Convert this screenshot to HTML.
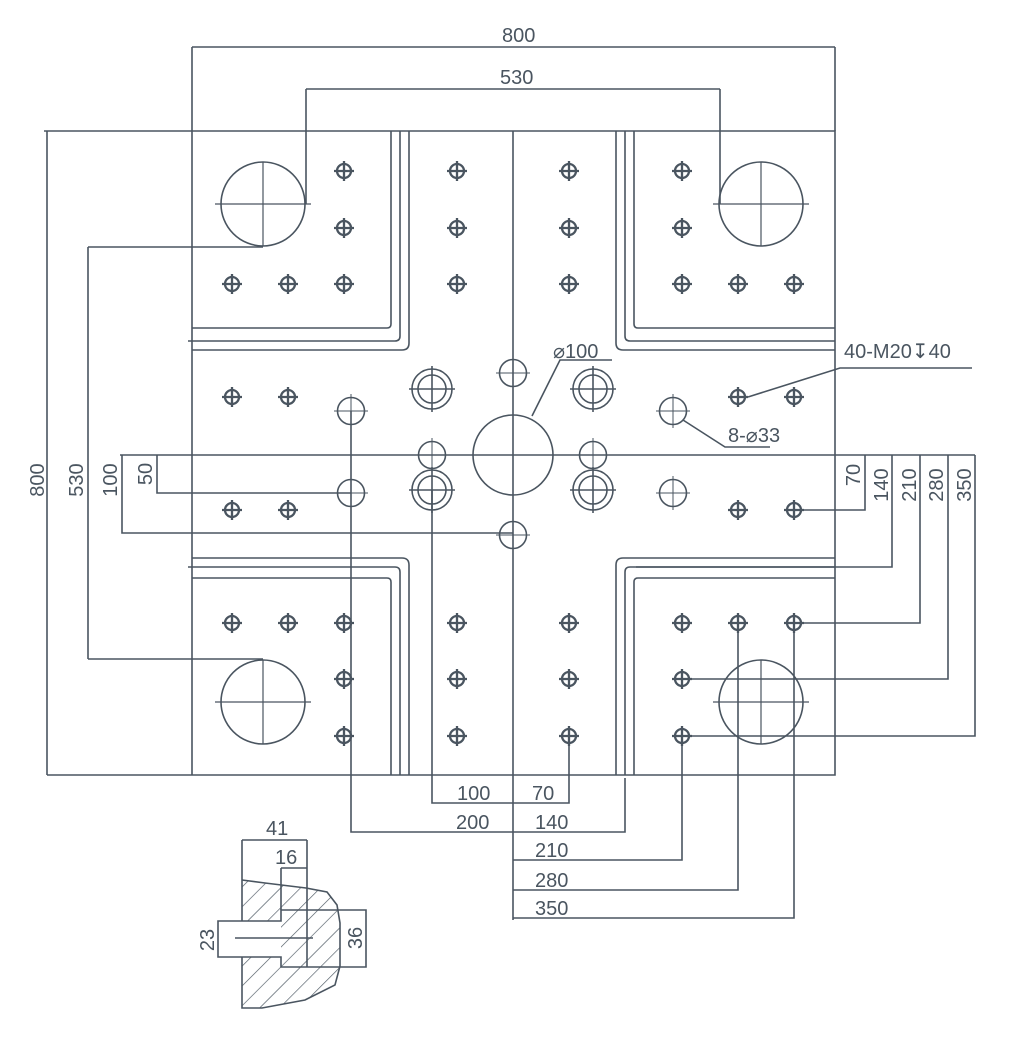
<!DOCTYPE html>
<html><head><meta charset="utf-8"><style>
html,body{margin:0;padding:0;background:#fff;}
svg{display:block;}
text{font-family:"Liberation Sans",sans-serif;font-size:20px;fill:#4a5560;}
</style></head><body>
<svg width="1012" height="1042" viewBox="0 0 1012 1042" xmlns="http://www.w3.org/2000/svg">
<defs>
<g id="h"><circle r="7" fill="none" stroke="#4a5560" stroke-width="2.3"/><path d="M-10 0H10M0 -10V10" stroke="#4a5560" stroke-width="2.3"/></g>
<g id="s"><circle r="13.5" fill="none" stroke="#4a5560" stroke-width="1.6"/><path d="M-17 0H17M0 -17V17" stroke="#4a5560" stroke-width="1"/></g>
<g id="c"><circle r="20" fill="none" stroke="#4a5560" stroke-width="1.6"/><circle r="14" fill="none" stroke="#4a5560" stroke-width="1.6"/><path d="M-23 0H23M0 -23V23" stroke="#4a5560" stroke-width="1.6"/></g>
<g id="t"><circle r="42" fill="none" stroke="#4a5560" stroke-width="1.6"/><path d="M-48 0H48M0 -42V42" stroke="#4a5560" stroke-width="1.2"/></g>
<pattern id="hatch" patternUnits="userSpaceOnUse" width="14" height="14" patternTransform="rotate(45)">
<line x1="0" y1="0" x2="0" y2="14" stroke="#4a5560" stroke-width="1.3"/>
</pattern>
</defs>
<g fill="none" stroke="#4a5560" stroke-width="1.6">
<path d="M192 131V775M44 131H835V775H47"/>
<path d="M391 131V324q0 4 -4 4H192M400 131V336q0 5 -5 5H188M409 131V343q0 7 -7 7H192"/>
<path d="M634 131V324q0 4 4 4H835M625 131V336q0 5 5 5H835M616 131V343q0 7 7 7H835"/>
<path d="M391 775V582q0 -4 -4 -4H192M400 775V572q0 -5 -5 -5H188M409 775V565q0 -7 -7 -7H192"/>
<path d="M634 775V582q0 -4 4 -4H835M625 775V572q0 -5 5 -5H835M616 775V565q0 -7 7 -7H835"/>
<path d="M513 131V920M120 455H975"/>
<path d="M192 47H835M192 47V131M835 47V131M306 89H720M306 89V204M720 89V204"/>
<path d="M47 131V775M88 247H263M88 659H263M88 247V659M122 455V533H513M157 455V493H351"/>
<path d="M865 455V510H794M892 455V567H636M920 455V623H794M948 455V679H682M975 455V736H682"/>
<path d="M432 490V803H569V736M351 411V832H625V778M682 736V860H513M738 623V890H513M794 623V918H513"/>
<path d="M532 416L560 360H612M748 397L840 368H972M683 420L725 447H770"/>
</g>
<g>
<use href="#h" x="344" y="171"/><use href="#h" x="344" y="228"/><use href="#h" x="232" y="284"/><use href="#h" x="288" y="284"/><use href="#h" x="344" y="284"/>
<use href="#h" x="457" y="171"/><use href="#h" x="457" y="228"/><use href="#h" x="457" y="284"/><use href="#h" x="569" y="171"/><use href="#h" x="569" y="228"/><use href="#h" x="569" y="284"/>
<use href="#h" x="682" y="171"/><use href="#h" x="682" y="228"/><use href="#h" x="682" y="284"/><use href="#h" x="738" y="284"/><use href="#h" x="794" y="284"/>
<use href="#h" x="232" y="397"/><use href="#h" x="288" y="397"/><use href="#h" x="738" y="397"/><use href="#h" x="794" y="397"/>
<use href="#h" x="232" y="510"/><use href="#h" x="288" y="510"/><use href="#h" x="738" y="510"/><use href="#h" x="794" y="510"/>
<use href="#h" x="232" y="623"/><use href="#h" x="288" y="623"/><use href="#h" x="344" y="623"/><use href="#h" x="344" y="679"/><use href="#h" x="344" y="736"/>
<use href="#h" x="457" y="623"/><use href="#h" x="457" y="679"/><use href="#h" x="457" y="736"/><use href="#h" x="569" y="623"/><use href="#h" x="569" y="679"/><use href="#h" x="569" y="736"/>
<use href="#h" x="682" y="623"/><use href="#h" x="738" y="623"/><use href="#h" x="794" y="623"/><use href="#h" x="682" y="679"/><use href="#h" x="682" y="736"/>
<use href="#s" x="513" y="373"/><use href="#s" x="513" y="535"/><use href="#s" x="432" y="455"/><use href="#s" x="593" y="455"/>
<use href="#s" x="351" y="411"/><use href="#s" x="351" y="493"/><use href="#s" x="673" y="411"/><use href="#s" x="673" y="493"/>
<use href="#c" x="432" y="389"/><use href="#c" x="593" y="389"/><use href="#c" x="432" y="490"/><use href="#c" x="593" y="490"/>
<use href="#t" x="263" y="204"/><use href="#t" x="761" y="204"/><use href="#t" x="263" y="702"/><use href="#t" x="761" y="702"/>
<circle cx="513" cy="455" r="40" fill="none" stroke="#4a5560" stroke-width="1.6"/>
</g>
<text x="502" y="42">800</text>
<text x="500" y="84">530</text>
<text x="553" y="358">⌀100</text>
<text x="844" y="358">40-M20↧40</text>
<text x="728" y="442">8-⌀33</text>
<text transform="translate(44 480) rotate(-90)" text-anchor="middle">800</text>
<text transform="translate(83 480) rotate(-90)" text-anchor="middle">530</text>
<text transform="translate(117 480) rotate(-90)" text-anchor="middle">100</text>
<text transform="translate(152 474) rotate(-90)" text-anchor="middle">50</text>
<text transform="translate(860 475) rotate(-90)" text-anchor="middle">70</text>
<text transform="translate(888 485) rotate(-90)" text-anchor="middle">140</text>
<text transform="translate(916 485) rotate(-90)" text-anchor="middle">210</text>
<text transform="translate(943 485) rotate(-90)" text-anchor="middle">280</text>
<text transform="translate(971 485) rotate(-90)" text-anchor="middle">350</text>
<text x="457" y="800">100</text>
<text x="532" y="800">70</text>
<text x="456" y="829">200</text>
<text x="535" y="829">140</text>
<text x="535" y="857">210</text>
<text x="535" y="887">280</text>
<text x="535" y="915">350</text>
<!-- detail -->
<path d="M242 880L265 883 306 888 327 892 337 905 340 923 340 966 335 985 305 1000 262 1008H242Z M242 921H281V957H242Z" fill="url(#hatch)" fill-rule="evenodd" stroke="none"/>
<g fill="none" stroke="#4a5560" stroke-width="1.6">
<path d="M242 840H307M242 840V880M307 840V868M281 868H307M281 868V910"/>
<path d="M242 880L265 883 306 888 327 892 337 905 340 923 340 966 335 985 305 1000 262 1008H242V957M242 921V880"/>
<path d="M218 921H281V910H366V967H281V957H218Z M307 868V967"/>
<path d="M235 938H313"/>
</g>
<text x="266" y="835">41</text>
<text x="275" y="864">16</text>
<text transform="translate(214 940) rotate(-90)" text-anchor="middle">23</text>
<text transform="translate(362 938) rotate(-90)" text-anchor="middle">36</text>
</svg>
</body></html>
